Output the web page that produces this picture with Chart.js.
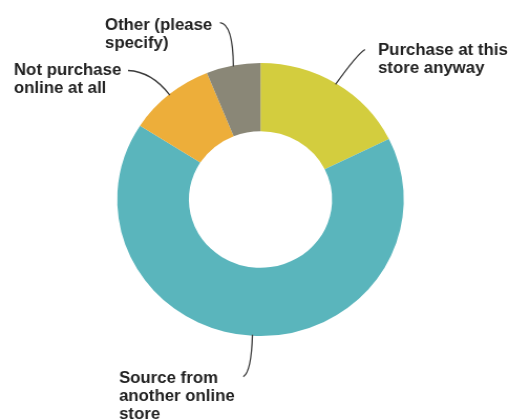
<!DOCTYPE html>
<html>
<head>
<meta charset="utf-8">
<script src="https://cdn.jsdelivr.net/npm/chart.js@4/dist/chart.umd.min.js"></script>
<style>
  html, body { margin: 0; padding: 0; background: #fff; overflow: hidden; }
  #wrap { width: 509px; height: 420px; position: relative; }
  #c { position: absolute; left: 0; top: 0; transform: scaleX(1.0495); transform-origin: 0 0; }
</style>
</head>
<body>
<div id="wrap"><canvas id="c" width="485" height="420"></canvas></div>
<script>
// ---- data ----
const categories = ['Purchase at this store anyway', 'Source from another online store', 'Not purchase online at all', 'Other (please specify)'];
const values = [17.7, 66.4, 9.8, 6.1];
const labelLines = [
  ['Purchase at this', 'store anyway'],
  ['Source from', 'another online', 'store'],
  ['Not purchase', 'online at all'],
  ['Other (please', 'specify)']
];
const colors = ['#D3CD3E', '#5AB5BC', '#EDAE3A', '#8A8777'];

// ---- layout of callouts (canvas coords) ----
const callouts = [
  { tx: 360.2, ty: 55,  ex: 347.8, ey: 49.5, cx: 340.5, cy: 54 },
  { tx: 113.4, ty: 383, ex: 231.8, ey: 376.7, cx: 239.5, cy: 372 },
  { tx: 13.3,  ty: 74.5, ex: 122.0, ey: 70.5, cx: 144.5, cy: 71.5 },
  { tx: 100.0, ty: 29.5, ex: 209.6, ey: 22.7, cx: 222.0, cy: 24 }
];

const calloutPlugin = {
  id: 'callouts',
  afterDatasetsDraw(chart) {
    const ctx = chart.ctx;
    const meta = chart.getDatasetMeta(0);
    ctx.save();
    meta.data.forEach((arc, i) => {
      const p = arc.getProps(['x', 'y', 'startAngle', 'endAngle', 'outerRadius'], true);
      const mid = (p.startAngle + p.endAngle) / 2;
      const ax = p.x + Math.cos(mid) * (p.outerRadius - 1);
      const ay = p.y + Math.sin(mid) * (p.outerRadius - 1);
      const c = callouts[i];
      ctx.beginPath();
      ctx.moveTo(ax, ay);
      ctx.quadraticCurveTo(c.cx, c.cy, c.ex, c.ey);
      ctx.strokeStyle = '#3a3a3a';
      ctx.lineWidth = 1.3;
      ctx.stroke();
      ctx.fillStyle = '#222222';
      ctx.font = 'bold 16px Arial, "Liberation Sans", sans-serif';
      ctx.textAlign = 'left';
      ctx.textBaseline = 'alphabetic';
      labelLines[i].forEach((ln, k) => ctx.fillText(ln, c.tx, c.ty + k * 18));
    });
    ctx.restore();
  }
};

new Chart(document.getElementById('c'), {
  type: 'doughnut',
  data: {
    labels: categories,
    datasets: [{
      data: values,
      backgroundColor: colors,
      borderWidth: 0,
      hoverOffset: 0
    }]
  },
  options: {
    responsive: false,
    animation: false,
    cutout: '50%',
    layout: { padding: { top: 63, bottom: 84, left: 111.7, right: 100.3 } },
    plugins: {
      legend: { display: false },
      tooltip: { enabled: false }
    },
    events: []
  },
  plugins: [calloutPlugin]
});
</script>
</body>
</html>
